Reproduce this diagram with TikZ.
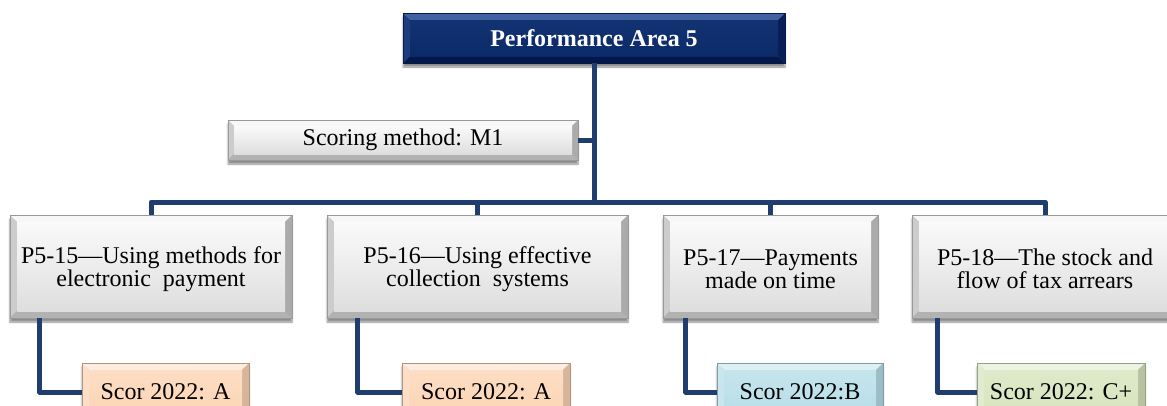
\documentclass[tikz,border=0pt]{standalone}
\usepackage{fontspec}
\setmainfont{Liberation Serif}
\usetikzlibrary{shadows.blur}

\definecolor{linkblue}{HTML}{1F3D6E}
\definecolor{navyface}{HTML}{0B2A6A}
\definecolor{navytop}{HTML}{4062A2}
\definecolor{navyleft}{HTML}{1D3C7C}
\definecolor{navyright}{HTML}{071F55}
\definecolor{navybot}{HTML}{04184A}
\definecolor{peachface}{HTML}{FCD5B5}
\definecolor{blueface}{HTML}{B7DEE8}
\definecolor{greenface}{HTML}{D7E4BD}

\newcommand\topstrut{\rule{0pt}{22pt}}

\tikzset{
  bevel width/.store in=\bevw, bevel width=7pt,
  % beveled button: top, left, right, bottom edge colours, face top and bottom colours
  bevel/.style n args={6}{
    path picture={
      \coordinate (pnw) at (path picture bounding box.north west);
      \coordinate (pne) at (path picture bounding box.north east);
      \coordinate (psw) at (path picture bounding box.south west);
      \coordinate (pse) at (path picture bounding box.south east);
      \fill[#1] (pnw) -- (pne) -- ([xshift=-\bevw,yshift=-\bevw]pne) -- ([xshift=\bevw,yshift=-\bevw]pnw) -- cycle;
      \fill[#2] (pnw) -- (psw) -- ([xshift=\bevw,yshift=\bevw]psw) -- ([xshift=\bevw,yshift=-\bevw]pnw) -- cycle;
      \fill[#3] (pne) -- (pse) -- ([xshift=-\bevw,yshift=\bevw]pse) -- ([xshift=-\bevw,yshift=-\bevw]pne) -- cycle;
      \fill[#4] (psw) -- (pse) -- ([xshift=-\bevw,yshift=\bevw]pse) -- ([xshift=\bevw,yshift=\bevw]psw) -- cycle;
      \shade[top color=#5, bottom color=#6] ([xshift=\bevw,yshift=\bevw]psw) rectangle ([xshift=-\bevw,yshift=-\bevw]pne);
    }
  },
  boxbase/.style={rectangle, inner sep=0pt, align=center,
    font=\fontsize{24}{23}\selectfont,
    blur shadow={shadow xshift=0pt, shadow yshift=-4pt, shadow blur steps=6, shadow opacity=45}},
  titlebox/.style={boxbase, draw=navybot, line width=0.4pt, text=white,
    font=\fontsize{24}{23}\selectfont\bfseries,
    bevel={navytop}{navyleft}{navyright}{navybot}{navyface!85!navytop}{navyface}},
  greybox/.style={boxbase, draw=black!40, line width=0.4pt,
    bevel={white!97!black}{black!20}{black!33}{black!30}{white!98!black}{black!13}},
  scorebox/.style={boxbase, draw=#1!70!black, line width=0.4pt,
    bevel={#1!45!white}{#1!75!white}{#1!85!black}{#1!80!black}{#1!80!white}{#1}},
  link/.style={draw=linkblue, line width=5pt, line join=round}
}

\begin{document}
\begin{tikzpicture}[x=1pt, y=-1pt]
  \useasboundingbox (0,0) rectangle (1167,405);

  % top of the hierarchy
  \node[titlebox, minimum width=382pt, minimum height=50pt] (pa) at (594,38) {Performance Area 5};
  \node[greybox, bevel width=6pt, minimum width=350pt, minimum height=40pt] (method) at (403,140) {Scoring method: M1};

  % indicators
  \node[greybox, minimum width=282pt, minimum height=103pt] (i15) at (151,266.5) {\topstrut P5-15---Using methods for\\electronic\ \ payment};
  \node[greybox, minimum width=301pt, minimum height=103pt] (i16) at (477.5,266.5) {\topstrut P5-16---Using effective\\collection\ \ systems};
  \node[greybox, minimum width=215pt, minimum height=103pt] (i17) at (770.5,266.5) {\topstrut P5-17---Payments\\made on time};
  \node[greybox, minimum width=266pt, minimum height=103pt] (i18) at (1045,266.5) {\topstrut P5-18---The stock and\\flow of tax arrears};

  % scores
  \node[scorebox=peachface, minimum width=167pt, minimum height=58pt] (s15) at (165.5,392) {Scor 2022: A};
  \node[scorebox=peachface, minimum width=168pt, minimum height=58pt] (s16) at (486,392) {Scor 2022: A};
  \node[scorebox=blueface, minimum width=166pt, minimum height=58pt] (s17) at (800,392) {Scor 2022:B};
  \node[scorebox=greenface, minimum width=168pt, minimum height=58pt] (s18) at (1061,392) {Scor 2022: C+};

  % connectors
  \coordinate (bus) at (0,202);
  \draw[link] (method.east) -- (method.east -| pa.south);
  \draw[link] (pa.south) -- (pa.south |- bus) -| (i15.north);
  \draw[link] (pa.south) -- (pa.south |- bus) -| (i16.north);
  \draw[link] (pa.south) -- (pa.south |- bus) -| (i17.north);
  \draw[link] (pa.south) -- (pa.south |- bus) -| (i18.north);
  \draw[link] ([xshift=30pt]i15.south west) |- (s15.west);
  \draw[link] ([xshift=31pt]i16.south west) |- (s16.west);
  \draw[link] ([xshift=23pt]i17.south west) |- (s17.west);
  \draw[link] ([xshift=26pt]i18.south west) |- (s18.west);
\end{tikzpicture}
\end{document}
